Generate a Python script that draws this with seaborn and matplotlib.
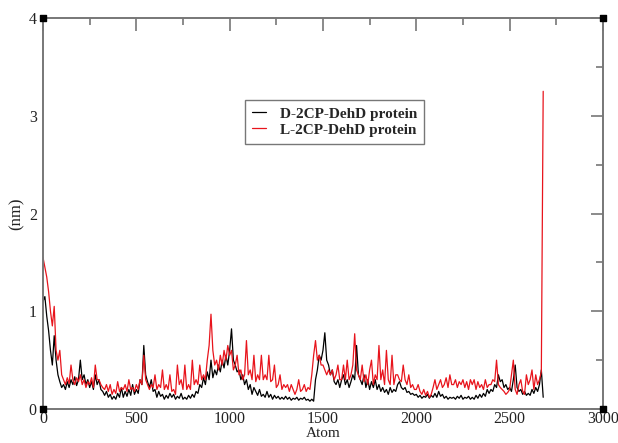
import numpy as np
import pandas as pd
import seaborn as sns
import matplotlib.pyplot as plt
from matplotlib.ticker import MultipleLocator

# atom index (every 10 atoms) and fluctuation values in nm
atoms = list(range(0, 2690, 10))

d_protein = [
    1.10, 1.15, 0.95, 0.80, 0.60, 0.45, 0.75, 0.50, 0.35, 0.28,
    0.22, 0.25, 0.20, 0.28, 0.22, 0.30, 0.25, 0.33, 0.24, 0.30,
    0.50, 0.30, 0.35, 0.25, 0.30, 0.22, 0.28, 0.20, 0.35, 0.25,
    0.30, 0.20, 0.18, 0.14, 0.18, 0.12, 0.15, 0.10, 0.13, 0.10,
    0.16, 0.12, 0.22, 0.12, 0.18, 0.13, 0.20, 0.14, 0.25, 0.15,
    0.20, 0.16, 0.30, 0.25, 0.65, 0.35, 0.28, 0.22, 0.30, 0.18,
    0.20, 0.12, 0.18, 0.13, 0.15, 0.10, 0.14, 0.11, 0.16, 0.12,
    0.15, 0.10, 0.13, 0.11, 0.16, 0.10, 0.12, 0.10, 0.14, 0.11,
    0.15, 0.12, 0.18, 0.16, 0.25, 0.22, 0.32, 0.25, 0.38, 0.30,
    0.50, 0.32, 0.40, 0.35, 0.45, 0.38, 0.50, 0.42, 0.55, 0.45,
    0.60, 0.82, 0.50, 0.45, 0.38, 0.40, 0.30, 0.35, 0.25, 0.30,
    0.20, 0.25, 0.15, 0.22, 0.18, 0.14, 0.20, 0.13, 0.15, 0.12,
    0.18, 0.12, 0.15, 0.10, 0.14, 0.11, 0.13, 0.10, 0.12, 0.10,
    0.13, 0.10, 0.12, 0.09, 0.11, 0.10, 0.12, 0.09, 0.11, 0.10,
    0.12, 0.09, 0.10, 0.08, 0.10, 0.08, 0.30, 0.40, 0.55, 0.50,
    0.60, 0.78, 0.50, 0.45, 0.35, 0.40, 0.28, 0.25, 0.30, 0.22,
    0.30, 0.35, 0.25, 0.30, 0.22, 0.28, 0.35, 0.30, 0.65, 0.35,
    0.30, 0.25, 0.35, 0.22, 0.30, 0.20, 0.28, 0.22, 0.30, 0.20,
    0.25, 0.18, 0.22, 0.17, 0.20, 0.15, 0.22, 0.17, 0.20, 0.18,
    0.25, 0.28, 0.22, 0.20, 0.22, 0.17, 0.18, 0.15, 0.16, 0.14,
    0.15, 0.12, 0.14, 0.11, 0.13, 0.12, 0.15, 0.11, 0.14, 0.12,
    0.16, 0.12, 0.18, 0.13, 0.15, 0.11, 0.13, 0.10, 0.12, 0.11,
    0.12, 0.10, 0.13, 0.11, 0.14, 0.10, 0.12, 0.11, 0.13, 0.10,
    0.12, 0.10, 0.14, 0.11, 0.15, 0.12, 0.16, 0.13, 0.20, 0.16,
    0.20, 0.18, 0.25, 0.22, 0.35, 0.28, 0.30, 0.22, 0.25, 0.20,
    0.22, 0.18, 0.30, 0.45, 0.22, 0.18, 0.20, 0.15, 0.18, 0.14,
    0.16, 0.14, 0.20, 0.16, 0.22, 0.18, 0.25, 0.40, 0.12,
]

l_protein = [
    1.55, 1.45, 1.35, 1.20, 1.00, 0.85, 1.05, 0.60, 0.50, 0.60,
    0.35, 0.30, 0.25, 0.32, 0.26, 0.45, 0.30, 0.25, 0.32, 0.28,
    0.35, 0.25, 0.30, 0.22, 0.28, 0.25, 0.32, 0.22, 0.45, 0.30,
    0.30, 0.25, 0.22, 0.20, 0.25, 0.18, 0.25, 0.15, 0.20, 0.16,
    0.28, 0.18, 0.22, 0.20, 0.25, 0.18, 0.30, 0.20, 0.22, 0.18,
    0.25, 0.20, 0.30, 0.25, 0.55, 0.30, 0.25, 0.20, 0.25, 0.22,
    0.35, 0.20, 0.25, 0.22, 0.40, 0.20, 0.25, 0.20, 0.35, 0.18,
    0.20, 0.15, 0.45, 0.25, 0.30, 0.20, 0.45, 0.20, 0.25, 0.20,
    0.50, 0.25, 0.30, 0.25, 0.45, 0.30, 0.35, 0.30, 0.50, 0.65,
    0.97, 0.60, 0.45, 0.50, 0.40, 0.55, 0.45, 0.60, 0.50, 0.65,
    0.55, 0.60, 0.40, 0.45, 0.55, 0.35, 0.40, 0.30, 0.35, 0.70,
    0.35, 0.40, 0.30, 0.55, 0.28, 0.35, 0.30, 0.55, 0.30, 0.35,
    0.30, 0.55, 0.28, 0.30, 0.45, 0.22, 0.25, 0.35, 0.20, 0.25,
    0.22, 0.25, 0.18, 0.25, 0.20, 0.15, 0.20, 0.30, 0.18, 0.20,
    0.25, 0.18, 0.22, 0.20, 0.35, 0.55, 0.70, 0.50, 0.55, 0.45,
    0.45, 0.40, 0.35, 0.40, 0.35, 0.40, 0.30, 0.35, 0.45, 0.30,
    0.30, 0.45, 0.30, 0.50, 0.30, 0.35, 0.45, 0.77, 0.40, 0.35,
    0.30, 0.45, 0.28, 0.35, 0.25, 0.40, 0.50, 0.25, 0.35, 0.30,
    0.65, 0.30, 0.40, 0.25, 0.60, 0.30, 0.25, 0.55, 0.25, 0.35,
    0.35, 0.30, 0.28, 0.45, 0.30, 0.25, 0.35, 0.22, 0.25, 0.20,
    0.20, 0.25, 0.18, 0.15, 0.20, 0.14, 0.18, 0.12, 0.15, 0.22,
    0.30, 0.20, 0.25, 0.30, 0.22, 0.25, 0.32, 0.22, 0.35, 0.25,
    0.25, 0.30, 0.22, 0.28, 0.25, 0.30, 0.22, 0.28, 0.20, 0.30,
    0.25, 0.30, 0.20, 0.28, 0.22, 0.25, 0.20, 0.30, 0.22, 0.25,
    0.25, 0.30, 0.28, 0.50, 0.25, 0.22, 0.20, 0.18, 0.15, 0.17,
    0.20, 0.35, 0.50, 0.20, 0.15, 0.25, 0.30, 0.18, 0.15, 0.35,
    0.25, 0.30, 0.40, 0.20, 0.35, 0.25, 0.30, 0.38, 3.25,
]

labels = ['D-2CP-DehD protein', 'L-2CP-DehD protein']
colors = ['black', '#e8141c']

df = pd.concat([
    pd.DataFrame({'Atom': atoms, 'nm': d_protein, 'series': labels[0]}),
    pd.DataFrame({'Atom': atoms, 'nm': l_protein, 'series': labels[1]}),
])

sns.set_style('white')
plt.rcParams['font.family'] = ['Liberation Serif', 'DejaVu Serif']

fig = plt.figure(figsize=(6.18, 4.43), dpi=100)
ax = fig.add_axes([0.0696, 0.0767, 0.906, 0.8827])

sns.lineplot(data=df, x='Atom', y='nm', hue='series', palette=colors,
             linewidth=0.9, ax=ax, estimator=None, sort=False)

ax.set_xlim(0, 3000)
ax.set_ylim(0, 4)
ax.xaxis.set_major_locator(MultipleLocator(500))
ax.xaxis.set_minor_locator(MultipleLocator(250))
ax.yaxis.set_major_locator(MultipleLocator(1))
ax.yaxis.set_minor_locator(MultipleLocator(0.5))
ax.tick_params(which='both', direction='in', top=True, right=True,
               colors='#777777', labelcolor='#222222', labelsize=11.5)
ax.tick_params(which='major', length=9, width=1.2)
ax.tick_params(which='minor', length=5, width=1.2)
ax.tick_params(axis='x', which='major', pad=1.5)
ax.tick_params(axis='y', which='major', pad=4.5)
for sp in ax.spines.values():
    sp.set_color('#777777')
    sp.set_linewidth(1.4)

ax.set_xlabel('Atom', fontsize=11, labelpad=0, color='#222222')
ax.set_ylabel('(nm)', fontsize=12, labelpad=3, color='#222222')

# small corner squares like the xmgrace export
ax.scatter([0, 0, 1, 1], [0, 1, 0, 1], transform=ax.transAxes, marker='s',
           s=16, color='black', clip_on=False, zorder=5)

leg = ax.legend(loc='upper left', bbox_to_anchor=(0.361, 0.79), frameon=True,
                fancybox=False, handlelength=0.9, handletextpad=0.9,
                borderpad=0.45, labelspacing=0.15, borderaxespad=0,
                prop={'weight': 'bold', 'size': 11})
leg.get_frame().set_edgecolor('#555555')
leg.get_frame().set_linewidth(1.0)

fig.savefig('out.png', dpi=100)
